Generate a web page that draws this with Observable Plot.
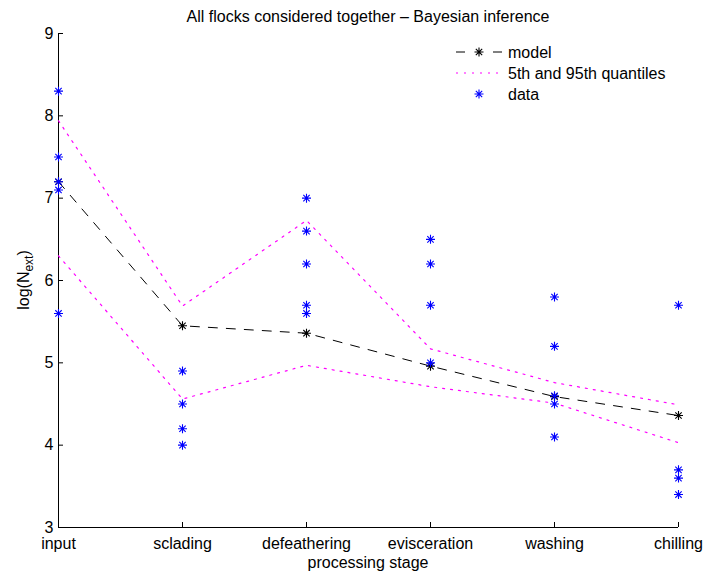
<!DOCTYPE html>
<html><head><meta charset="utf-8">
<script src="https://cdn.jsdelivr.net/npm/d3@7"></script>
<script src="https://cdn.jsdelivr.net/npm/@observablehq/plot@0.6"></script>
<style>body{margin:0;background:#fff}</style>
</head><body><div id="chart"></div>
<script>
// ---- data ----
const stages = ["input", "sclading", "defeathering", "evisceration", "washing", "chilling"];
const yTicks = [3, 4, 5, 6, 7, 8, 9];
const modelValues = [7.2, 5.45, 5.36, 4.96, 4.59, 4.36];
const q05Values = [6.3, 4.56, 4.97, 4.71, 4.51, 4.03];
const q95Values = [7.94, 5.69, 6.73, 5.17, 4.76, 4.49];
const dataInput = [8.3, 7.5, 7.2, 7.1, 5.6];
const dataScalding = [4.9, 4.5, 4.2, 4.0];
const dataDefeathering = [7.0, 6.6, 6.2, 5.7, 5.6];
const dataEvisceration = [6.5, 6.2, 5.7, 5.0];
const dataWashing = [5.8, 5.2, 4.6, 4.5, 4.1];
const dataChilling = [5.7, 3.7, 3.6, 3.4];
const titleText = "All flocks considered together – Bayesian inference";
const xLabel = "processing stage";
const legendLabels = ["model", "5th and 95th quantiles", "data"];

// ---- tables ----
const modelRows = stages.map((s, i) => ({stage: s, value: modelValues[i]}));
const q05Rows = stages.map((s, i) => ({stage: s, value: q05Values[i]}));
const q95Rows = stages.map((s, i) => ({stage: s, value: q95Values[i]}));
const dataRows = [dataInput, dataScalding, dataDefeathering, dataEvisceration, dataWashing, dataChilling]
  .flatMap((vals, i) => vals.map(v => ({stage: stages[i], value: v})));

// MATLAB-like 8-armed asterisk
const star8 = {
  draw(ctx, size) {
    const r = Math.sqrt(size / Math.PI), d = r * Math.SQRT1_2;
    ctx.moveTo(-r, 0); ctx.lineTo(r, 0);
    ctx.moveTo(0, -r); ctx.lineTo(0, r);
    ctx.moveTo(-d, -d); ctx.lineTo(d, d);
    ctx.moveTo(-d, d); ctx.lineTo(d, -d);
  }
};
const MAGENTA = "#ff00ff";
const DOTS = "2,6";
const FONT = "'Liberation Sans', Arial, Helvetica, sans-serif";

const W = 705, H = 576, ML = 58, MR = 27, MT = 33, MB = 49;
const chart = Plot.plot({
  width: W, height: H,
  marginLeft: ML, marginRight: MR, marginTop: MT, marginBottom: MB,
  style: {fontFamily: FONT, fontSize: "16px", color: "black", background: "white", overflow: "visible"},
  x: {type: "point", domain: stages, padding: 0, label: null},
  y: {domain: [3, 9], label: null},
  marks: [
    Plot.ruleY([3], {stroke: "black"}),
    Plot.ruleX([stages[0]], {stroke: "black"}),
    Plot.axisX({tickSize: -5, tickPadding: 15, label: null}),
    Plot.axisY({ticks: yTicks, tickFormat: d3.format("d"), tickSize: -5, tickPadding: 10, label: null}),
    Plot.line(modelRows, {x: "stage", y: "value", stroke: "black", strokeWidth: 1, strokeDasharray: "9,9"}),
    Plot.line(q05Rows, {x: "stage", y: "value", stroke: MAGENTA, strokeWidth: 1.2, strokeDasharray: DOTS}),
    Plot.line(q95Rows, {x: "stage", y: "value", stroke: MAGENTA, strokeWidth: 1.2, strokeDasharray: DOTS}),
    Plot.dot(modelRows, {x: "stage", y: "value", symbol: star8, r: 4.5, stroke: "black", fill: "none", strokeWidth: 1.1}),
    Plot.dot(dataRows, {x: "stage", y: "value", symbol: star8, r: 4.5, stroke: "blue", fill: "none", strokeWidth: 1.1})
  ]
});
document.getElementById("chart").appendChild(chart);

// ---- annotations: title, axis labels, legend ----
const svg = d3.select(chart);
const cx = ML + (W - ML - MR) / 2;
svg.append("text").attr("x", cx).attr("y", 22).attr("text-anchor", "middle")
  .attr("font-family", FONT).attr("font-size", 16).attr("fill", "black").text(titleText);
svg.append("text").attr("x", cx).attr("y", 568).attr("text-anchor", "middle")
  .attr("font-family", FONT).attr("font-size", 16).attr("fill", "black").text(xLabel);
const yl = svg.append("text").attr("transform", `translate(29,${MT + (H - MT - MB) / 2}) rotate(-90)`)
  .attr("text-anchor", "middle").attr("font-family", FONT).attr("font-size", 16).attr("fill", "black");
yl.append("tspan").text("log(N");
yl.append("tspan").attr("font-size", 12).attr("dy", 4).text("ext");
yl.append("tspan").attr("dy", -4).text(")");

const lg = svg.append("g").attr("font-family", FONT).attr("font-size", 16).attr("fill", "black")
  .attr("text-anchor", "start");
const rows = [52, 73, 94], lx0 = 456, lx1 = 502, lxs = 479, ltx = 508;
// model
lg.append("line").attr("x1", lx0).attr("x2", lx1).attr("y1", rows[0]).attr("y2", rows[0])
  .attr("stroke", "black").attr("stroke-dasharray", "9,28,9");
lg.append("path").attr("d", d3.symbol(star8, 4.5 * 4.5 * Math.PI)()).attr("transform", `translate(${lxs},${rows[0]})`)
  .attr("stroke", "black").attr("stroke-width", 1.1).attr("fill", "none");
// quantiles
lg.append("line").attr("x1", lx0).attr("x2", lx1).attr("y1", rows[1]).attr("y2", rows[1])
  .attr("stroke", MAGENTA).attr("stroke-width", 1.2).attr("stroke-dasharray", DOTS);
// data
lg.append("path").attr("d", d3.symbol(star8, 4.5 * 4.5 * Math.PI)()).attr("transform", `translate(${lxs},${rows[2]})`)
  .attr("stroke", "blue").attr("stroke-width", 1.1).attr("fill", "none");
legendLabels.forEach((t, i) => {
  lg.append("text").attr("x", ltx).attr("y", rows[i]).attr("dy", "0.35em").attr("text-anchor", "start").text(t);
});
</script></body></html>
